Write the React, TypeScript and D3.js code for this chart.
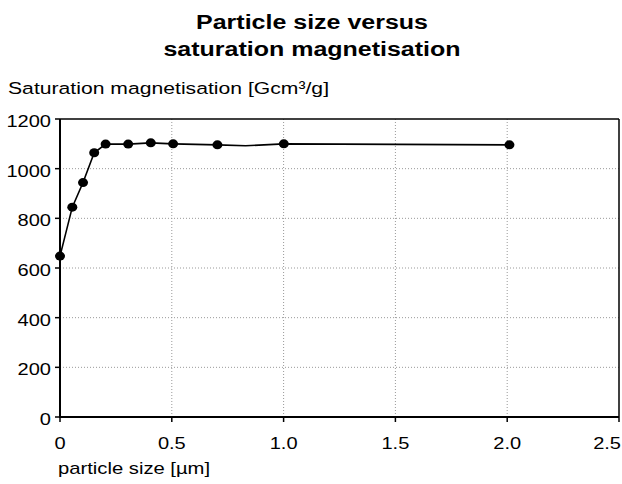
import React from "react";
import * as d3 from "d3";

const sizes = [0.0, 0.055, 0.103, 0.153, 0.204, 0.305, 0.406, 0.506, 0.704, 0.83, 1.001, 2.01];
const magnet = [648, 845, 944, 1064, 1099, 1099, 1104, 1100, 1096, 1092, 1100, 1096];
const marked = [true, true, true, true, true, true, true, true, true, false, true, true];
const xTicks = [0, 0.5, 1.0, 1.5, 2.0, 2.5];
const xTickLabels = ["0", "0.5", "1.0", "1.5", "2.0", "2.5"];
const yTicks = [0, 200, 400, 600, 800, 1000, 1200];
const titleLines = ["Particle size versus", "saturation magnetisation"];
const yTitle = "Saturation magnetisation [Gcm³/g]";
const xTitle = "particle size [µm]";

const W = 622, H = 484;
const L = 60, R = 619, T = 119, B = 417;
const font = "Liberation Sans, Arial, Helvetica, sans-serif";

function T2(props: { x: number; y: number; sx: number; anchor?: string; size: number; bold?: boolean; children: React.ReactNode }) {
  return (
    <text
      transform={`translate(${props.x},${props.y}) scale(${props.sx},1)`}
      textAnchor={props.anchor || "start"}
      fontSize={props.size}
      fontWeight={props.bold ? "bold" : "normal"}
      fill="#000"
    >
      {props.children}
    </text>
  );
}

export default function App() {
  const x = d3.scaleLinear().domain([0, 2.5]).range([L, R]);
  const y = d3.scaleLinear().domain([0, 1200]).range([B, T]);
  const pts = sizes.map((s, i) => ({ s, v: magnet[i], m: marked[i] }));
  const line = d3.line<{ s: number; v: number }>().x(d => x(d.s)).y(d => y(d.v));
  return (
    <svg width={W} height={H} style={{ position: "absolute", left: 0, top: 0, background: "#fff" }} fontFamily={font}>
      <rect width={W} height={H} fill="#fff" />
      {titleLines.map((t, i) => (
        <T2 key={t} x={312} y={29 + i * 27} sx={1.25} anchor="middle" size={20} bold>{t}</T2>
      ))}
      <T2 x={8} y={94} sx={1.245} size={17}>{yTitle}</T2>
      {yTicks.filter(v => v > 0 && v < 1200).map(v => (
        <line key={"gy" + v} x1={L} x2={R} y1={y(v)} y2={y(v)} stroke="#999" strokeWidth={1} strokeDasharray="1,2" />
      ))}
      {xTicks.filter(v => v > 0 && v < 2.5).map(v => (
        <line key={"gx" + v} x1={x(v)} x2={x(v)} y1={T} y2={B} stroke="#999" strokeWidth={1} strokeDasharray="1,2" />
      ))}
      <line x1={L} x2={R} y1={T} y2={T} stroke="#000" strokeWidth={1.5} />
      <line x1={R} x2={R} y1={T} y2={B} stroke="#000" strokeWidth={1.5} />
      <line x1={L} x2={L} y1={T} y2={B + 1} stroke="#000" strokeWidth={2} />
      <line x1={L - 1} x2={R} y1={B} y2={B} stroke="#000" strokeWidth={2} />
      {yTicks.map(v => (
        <g key={"ty" + v}>
          <line x1={L - 5} x2={L} y1={y(v)} y2={y(v)} stroke="#000" strokeWidth={1.5} />
          <T2 x={L - 9} y={y(v) + 8} sx={1.18} anchor="end" size={17}>{v}</T2>
        </g>
      ))}
      {xTicks.map((v, i) => (
        <g key={"tx" + v}>
          <line x1={x(v)} x2={x(v)} y1={B} y2={B + 5} stroke="#000" strokeWidth={1.5} />
          {i === xTicks.length - 1 ? (
            <T2 x={621} y={449} sx={1.18} anchor="end" size={17}>{xTickLabels[i]}</T2>
          ) : (
            <T2 x={x(v)} y={449} sx={1.18} anchor="middle" size={17}>{xTickLabels[i]}</T2>
          )}
        </g>
      ))}
      <T2 x={58} y={474} sx={1.19} size={17}>{xTitle}</T2>
      <path d={line(pts) || ""} fill="none" stroke="#000" strokeWidth={1.6} />
      {pts.filter(p => p.m).map((p, i) => (
        <ellipse key={"p" + i} cx={x(p.s)} cy={y(p.v)} rx={5} ry={4.5} fill="#000" />
      ))}
    </svg>
  );
}
